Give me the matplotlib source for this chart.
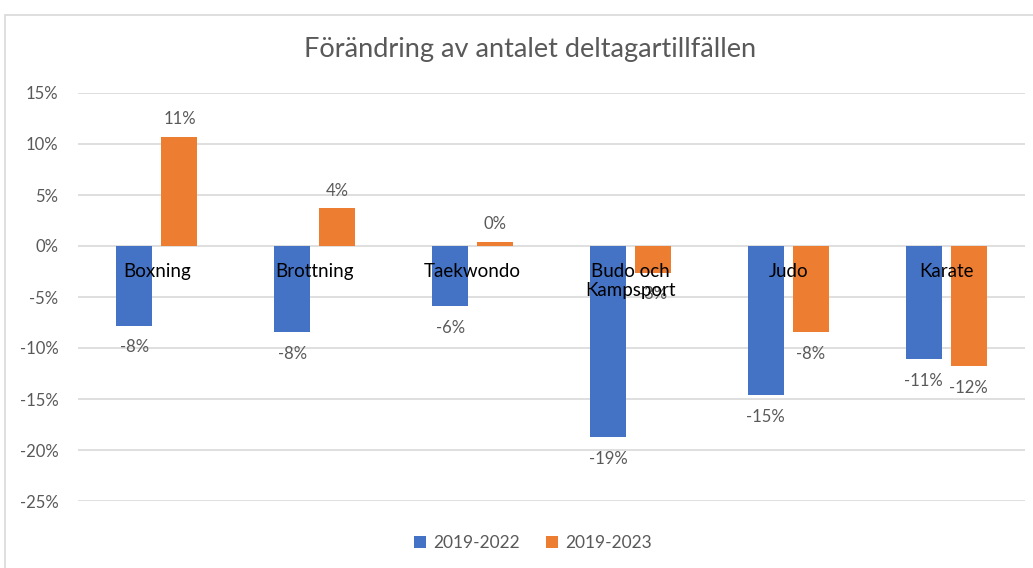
import matplotlib
matplotlib.use("Agg")
import matplotlib.pyplot as plt
import numpy as np
from matplotlib.patches import Rectangle

plt.rcParams['font.family'] = ['Lato', 'DejaVu Sans']

categories = ['Boxning', 'Brottning', 'Taekwondo', 'Budo och\nKampsport', 'Judo', 'Karate']
series_names = ['2019-2022', '2019-2023']
change_2019_2022 = [-7.8, -8.4, -5.9, -18.7, -14.6, -11.1]
change_2019_2023 = [10.7, 3.7, 0.4, -2.6, -8.4, -11.8]
label_2019_2022 = ['-8%', '-8%', '-6%', '-19%', '-15%', '-11%']
label_2019_2023 = ['11%', '4%', '0%', '-3%', '-8%', '-12%']
yticks = [15, 10, 5, 0, -5, -10, -15, -20, -25]

blue = '#4472C4'
orange = '#ED7D31'
grey_txt = '#595959'

fig = plt.figure(figsize=(10.33, 5.68), dpi=100)
# outer chart border
fig.patches.append(Rectangle((5 / 1033, -0.05), 1.1, 1 - 15 / 568 + 0.05,
                             transform=fig.transFigure, fill=False,
                             edgecolor='#D9D9D9', linewidth=1.2))

ax = fig.add_axes([78 / 1033, 1 - 501 / 568, (1025 - 78) / 1033, (501 - 93) / 568])

x = np.arange(len(categories))
w = 0.228
off = 0.1425
b1 = ax.bar(x - off, change_2019_2022, w, color=blue, label=series_names[0], zorder=2)
b2 = ax.bar(x + off, change_2019_2023, w, color=orange, label=series_names[1], zorder=2)

for bars, labels in ((b1, label_2019_2022), (b2, label_2019_2023)):
    for bar, lab in zip(bars, labels):
        h = bar.get_height()
        xc = bar.get_x() + bar.get_width() / 2
        if h >= 0:
            ax.annotate(lab, (xc, h), xytext=(0, 7), textcoords='offset points',
                        ha='center', va='bottom', fontsize=12, color=grey_txt, zorder=4)
        else:
            ax.annotate(lab, (xc, h), xytext=(0, -10), textcoords='offset points',
                        ha='center', va='top', fontsize=12, color=grey_txt, zorder=4)

# category labels sit at the zero line
for xi, cat in zip(x, categories):
    ax.annotate(cat, (xi, 0), xytext=(0, -12), textcoords='offset points',
                ha='center', va='top', fontsize=13.5, color='black',
                linespacing=1.15, zorder=5)

ax.set_xlim(-0.5, len(categories) - 0.5)
ax.set_ylim(-25, 15)
ax.set_yticks(yticks)
ax.set_yticklabels([f'{t}%' for t in yticks], fontsize=12, color=grey_txt)
ax.set_xticks([])
ax.tick_params(axis='y', length=0, pad=14)
ax.grid(axis='y', color='#D9D9D9', linewidth=1.2, zorder=0)
for s in ax.spines.values():
    s.set_visible(False)

fig.text(530 / 1033, 1 - 50 / 568, 'Förändring av antalet deltagartillfällen',
         ha='center', va='center', fontsize=19.5, color=grey_txt)

fig.legend(handles=[b1, b2], labels=series_names, loc='center',
           bbox_to_anchor=(533 / 1033, 1 - 543 / 568), ncol=2, frameon=False,
           fontsize=12.5, labelcolor=grey_txt, handlelength=0.7, handleheight=0.7,
           handletextpad=0.4, columnspacing=1.5)

plt.savefig('out.png', dpi=100)
